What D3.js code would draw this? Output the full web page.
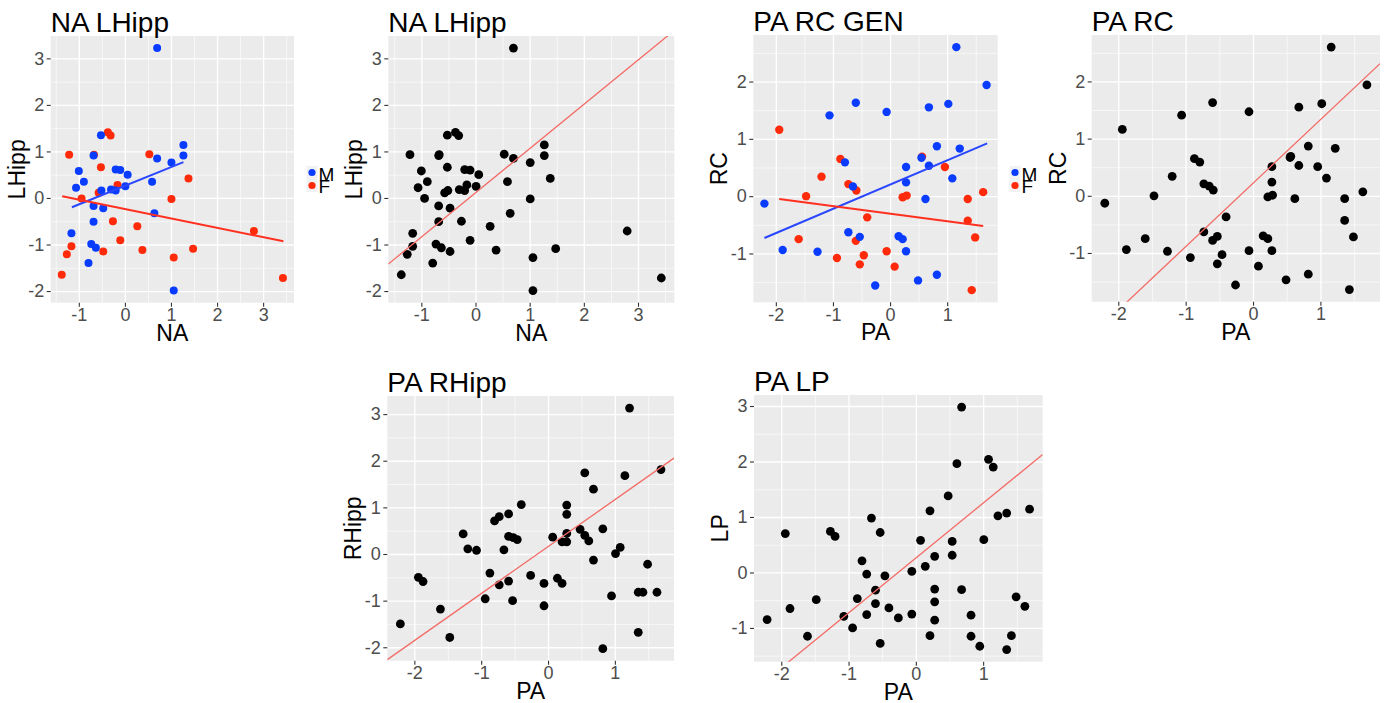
<!DOCTYPE html>
<html><head><meta charset="utf-8">
<script src="https://cdn.jsdelivr.net/npm/d3@7"></script>
<style>body{margin:0;background:#fff} svg{display:block;font-family:"Liberation Sans",Arial,sans-serif}</style>
</head><body><svg id="c" width="1384" height="703"></svg>
<script>
// ---------- DATA ----------
// NA vs LHipp, by gender
const naM = [0.70,-0.52,-0.68,0.70,1.27,1.27,1.01,0.59,0.64,-1.00,-0.89,-1.06,-0.20,-0.10,0.06,0.01,-0.30,-0.20,-0.51,-0.68,-0.47,-0.68,-1.16,-0.73,-0.63,-0.79,1.06];
const lhM = [3.22,1.35,0.91,0.85,1.14,0.91,0.76,0.35,-0.33,0.58,0.35,0.22,0.61,0.60,0.50,0.25,0.18,0.16,0.16,-0.17,-0.22,-0.51,-0.76,-0.99,-1.07,-1.40,-1.99];
const naF = [-0.67,-0.37,-0.31,-1.21,0.53,1.38,1.01,-0.52,-0.94,-0.16,-0.57,-0.26,0.27,-1.16,-1.26,-0.47,-0.10,0.38,1.48,1.06,-1.37,2.80,3.43];
const lhF = [0.93,1.41,1.34,0.93,0.94,0.42,-0.02,0.66,-0.01,0.28,0.11,-0.50,-0.61,-1.04,-1.21,-1.15,-0.91,-1.12,-1.09,-1.28,-1.65,-0.71,-1.72];
// per-gender fitted lines (NA LHipp)
const fitNA_M = {x:[-1.15,1.27], y:[-0.20,0.77]};
const fitNA_F = {x:[-1.36,3.44], y:[0.036,-0.93]};
// PA vs RC, by gender
const paM = [1.16,1.69,-1.06,-0.60,-0.06,0.68,1.02,0.82,1.22,0.55,0.68,0.28,0.28,1.09,-0.79,-0.65,0.62,-0.73,-0.53,0.15,0.22,0.28,-2.20,-1.88,-1.27,-0.26,0.49,0.82];
const rcM = [2.60,1.94,1.41,1.63,1.47,1.55,1.61,0.87,0.83,0.67,0.53,0.51,0.24,0.31,0.59,0.17,-0.05,-0.63,-0.71,-0.70,-0.75,-0.96,-0.13,-0.94,-0.97,-1.56,-1.47,-1.37];
const paF = [0.56,-1.94,0.96,-0.87,-1.20,-1.47,-0.73,-0.59,0.22,0.29,1.63,1.36,1.36,1.49,-0.40,-0.60,-1.60,-0.93,-0.46,-0.53,-0.06,0.08,1.43];
const rcF = [0.69,1.16,0.51,0.65,0.34,0.00,0.21,0.10,-0.02,0.01,0.07,-0.05,-0.43,-0.72,-0.37,-0.78,-0.75,-1.08,-1.03,-1.19,-0.96,-1.23,-1.64];
const fitPA_M = {x:[-2.20,1.70], y:[-0.73,0.92]};
const fitPA_F = {x:[-1.94,1.63], y:[-0.05,-0.52]};
// PA vs RHipp
const pa5 = [1.22,1.69,0.55,1.15,0.68,-0.40,0.28,0.28,-0.59,-0.73,-0.80,-1.27,-1.20,-1.07,-0.66,-0.59,-0.52,-0.46,0.07,0.21,0.28,0.28,0.48,0.55,0.61,0.82,0.68,1.01,1.08,1.49,-0.87,-0.73,-0.59,-0.26,-0.06,0.14,0.21,-1.94,-1.87,-1.61,-2.21,-1.47,-0.94,-0.53,-0.06,0.95,1.35,1.42,1.63,1.35,0.82];
const rhipp = [3.13,1.81,1.74,1.68,1.39,1.06,1.05,0.85,0.86,0.80,0.71,0.43,0.11,0.08,0.09,0.38,0.35,0.31,0.36,0.26,0.26,0.44,0.53,0.40,0.28,0.54,-0.13,0.01,0.14,-0.22,-0.41,-0.66,-0.58,-0.46,-0.63,-0.52,-0.63,-0.50,-0.59,-1.18,-1.50,-1.79,-0.96,-1.00,-1.11,-0.90,-0.82,-0.82,-0.82,-1.68,-2.03];
// PA vs LP
const pa6 = [0.68,1.08,1.15,0.61,0.48,0.21,1.22,1.35,1.69,1.01,0.54,0.54,0.28,0.07,0.14,-0.06,-0.66,-0.53,-1.94,-1.27,-1.20,-0.80,-0.73,-0.46,-0.60,-0.87,-0.60,-0.40,-0.26,-0.73,-1.07,-0.94,-1.48,-1.87,-2.21,-1.61,-0.53,-0.06,0.28,0.28,0.28,0.21,0.68,0.82,0.82,0.95,1.35,1.42,1.49,1.62];
const lp = [2.98,2.04,1.90,1.96,1.38,1.11,1.02,1.07,1.14,0.59,0.56,0.31,0.29,0.58,0.11,0.02,0.98,0.72,0.70,0.74,0.65,0.21,-0.03,-0.06,-0.32,-0.47,-0.56,-0.64,-0.82,-0.76,-0.79,-1.00,-0.49,-0.65,-0.85,-1.15,-1.28,-0.75,-0.30,-0.53,-0.86,-1.14,-0.31,-0.77,-1.15,-1.33,-1.39,-1.14,-0.44,-0.61];
// reference lines: [intercept, slope]
const ablineNA = [0.11, 0.951];
const ablineRC = [0.22, 1.11];
const ablineRH = [0.157, 1.007];
const ablineLP = [0.26, 0.99];
// ticks
const ticksNA = [-1,0,1,2,3];
const ticksLH = [-2,-1,0,1,2,3];
const ticksPA = [-2,-1,0,1];
const ticksRC = [-1,0,1,2];
const ticksRH = [-2,-1,0,1,2,3];
const ticksLP = [-1,0,1,2,3];
const genders = ["M","F"];

// ---------- DRAW ----------
const BLUE = "#0a3cff", RED = "#ff2a0a";
const svg = d3.select('#c');
let clipId = 0;

function panel(o){
  const g = svg.append('g');
  const xs = o.series.flatMap(s=>s.x), ys = o.series.flatMap(s=>s.y);
  const ex = d3.extent(xs), ey = d3.extent(ys);
  const px = (ex[1]-ex[0])*0.05, py = (ey[1]-ey[0])*0.05;
  const x = d3.scaleLinear().domain([ex[0]-px, ex[1]+px]).range([o.l, o.r]);
  const y = d3.scaleLinear().domain([ey[0]-py, ey[1]+py]).range([o.b, o.t]);
  const W = o.r-o.l, H = o.b-o.t;
  g.append('rect').attr('x',o.l).attr('y',o.t).attr('width',W).attr('height',H).attr('fill','#ebebeb');

  const minor = (tk, dom) => {
    const st = tk[1]-tk[0], a=[];
    for (let v = tk[0]-st/2; v <= dom[1]; v += st) if (v >= dom[0]) a.push(v);
    for (let v = tk[0]-st*1.5; v >= dom[0]; v -= st) a.push(v);
    return a;
  };
  const grid = (axis, w) => {
    const gg = g.append('g').call(axis);
    gg.select('.domain').remove();
    gg.selectAll('line').attr('stroke','#ffffff').attr('stroke-width', w);
    gg.selectAll('text').remove();
    return gg;
  };
  grid(d3.axisBottom(x).tickValues(minor(o.xt, x.domain())).tickSize(-H).tickFormat(''), 0.6).attr('transform',`translate(0,${o.b})`);
  grid(d3.axisLeft(y).tickValues(minor(o.yt, y.domain())).tickSize(-W).tickFormat(''), 0.6).attr('transform',`translate(${o.l},0)`);
  grid(d3.axisBottom(x).tickValues(o.xt).tickSize(-H).tickFormat(''), 1.3).attr('transform',`translate(0,${o.b})`);
  grid(d3.axisLeft(y).tickValues(o.yt).tickSize(-W).tickFormat(''), 1.3).attr('transform',`translate(${o.l},0)`);

  // axes
  const styleAx = a => {
    a.attr('font-size',null).attr('font-family',null);
    a.select('.domain').remove();
    a.selectAll('line').attr('stroke','#333333').attr('stroke-width',1.1);
    a.selectAll('text').attr('fill','#4d4d4d').style('font-size','18px').style('font-family','"Liberation Sans",Arial,sans-serif');
  };
  const ax = g.append('g').attr('transform',`translate(0,${o.b})`)
    .call(d3.axisBottom(x).tickValues(o.xt).tickSize(4).tickPadding(1.5).tickFormat(d=>String(d)));
  styleAx(ax);
  const ay = g.append('g').attr('transform',`translate(${o.l},0)`)
    .call(d3.axisLeft(y).tickValues(o.yt).tickSize(4).tickPadding(2.5).tickFormat(d=>String(d)));
  styleAx(ay);

  // clip
  const id = 'clip'+(clipId++);
  svg.append('clipPath').attr('id',id).append('rect').attr('x',o.l).attr('y',o.t).attr('width',W).attr('height',H);
  const pg = g.append('g').attr('clip-path',`url(#${id})`);

  o.series.forEach(s=>{
    pg.append('g').selectAll('circle').data(d3.range(s.x.length)).join('circle')
      .attr('cx',i=>x(s.x[i])).attr('cy',i=>y(s.y[i])).attr('r',o.r0||4.4).attr('fill',s.color);
  });
  (o.fits||[]).forEach(f=>{
    pg.append('path').attr('d', d3.line().x(d=>x(d[0])).y(d=>y(d[1]))(f.x.map((v,i)=>[v,f.y[i]])))
      .attr('fill','none').attr('stroke',f.color).attr('stroke-width',2);
  });
  if (o.abline){
    const [a,b] = o.abline, d = x.domain();
    pg.append('path').attr('d', d3.line().x(p=>x(p[0])).y(p=>y(p[1]))([[d[0],a+b*d[0]],[d[1],a+b*d[1]]]))
      .attr('fill','none').attr('stroke','#f36b66').attr('stroke-width',1.3);
  }

  // titles
  g.append('text').attr('x',o.l).attr('y',o.t-4.5).text(o.title)
    .style('font-size','28px').attr('fill','#000');
  g.append('text').attr('x',(o.l+o.r)/2).attr('y',o.b+38).attr('text-anchor','middle').text(o.xlab)
    .style('font-size','23px').attr('fill','#000');
  g.append('text').attr('transform',`translate(${o.l-26},${(o.t+o.b)/2}) rotate(-90)`).attr('text-anchor','middle').text(o.ylab)
    .style('font-size','23px').attr('fill','#000');

  if (o.legend){
    const lg = svg.append('g').attr('transform',`translate(${o.legend[0]},${o.legend[1]})`);
    genders.forEach((gn,i)=>{
      lg.append('rect').attr('x',-5.5).attr('y',i*13-6.5).attr('width',11).attr('height',13).attr('fill','#f2f2f2');
      lg.append('circle').attr('cx',0).attr('cy',i*13).attr('r',3.6).attr('fill', i===0?BLUE:RED);
    });
    genders.forEach((gn,i)=>{
      lg.append('text').attr('x',6.5).attr('y',8 + i*12.5).text(gn).style('font-size','19px').attr('fill','#000');
    });
  }
}

panel({l:50.7,r:294,t:36,b:302.7, title:"NA LHipp", xlab:"NA", ylab:"LHipp", xt:ticksNA, yt:ticksLH, r0:4,
  series:[{x:naF,y:lhF,color:RED},{x:naM,y:lhM,color:BLUE}],
  fits:[{...fitNA_M,color:"#2a46ff"},{...fitNA_F,color:"#ff3020"}], legend:[312,172.5]});
panel({l:388.3,r:674.3,t:36,b:302.7, title:"NA LHipp", xlab:"NA", ylab:"LHipp", xt:ticksNA, yt:ticksLH,
  series:[{x:naF.concat(naM),y:lhF.concat(lhM),color:"#000"}], abline:ablineNA});
panel({l:753.3,r:997.7,t:35,b:302.3, title:"PA RC GEN", xlab:"PA", ylab:"RC", xt:ticksPA, yt:ticksRC, r0:4.2,
  series:[{x:paF,y:rcF,color:RED},{x:paM,y:rcM,color:BLUE}],
  fits:[{...fitPA_M,color:"#2a46ff"},{...fitPA_F,color:"#ff3020"}], legend:[1015,172.5]});
panel({l:1091.7,r:1380,t:35,b:301.7, title:"PA RC", xlab:"PA", ylab:"RC", xt:ticksPA, yt:ticksRC,
  series:[{x:paF.concat(paM),y:rcF.concat(rcM),color:"#000"}], abline:ablineRC});
panel({l:387.3,r:674,t:396,b:660.7, title:"PA RHipp", xlab:"PA", ylab:"RHipp", xt:ticksPA, yt:ticksRH,
  series:[{x:pa5,y:rhipp,color:"#000"}], abline:ablineRH});
panel({l:754,r:1042.7,t:395,b:661.7, title:"PA LP", xlab:"PA", ylab:"LP", xt:ticksPA, yt:ticksLP,
  series:[{x:pa6,y:lp,color:"#000"}], abline:ablineLP});
</script></body></html>
